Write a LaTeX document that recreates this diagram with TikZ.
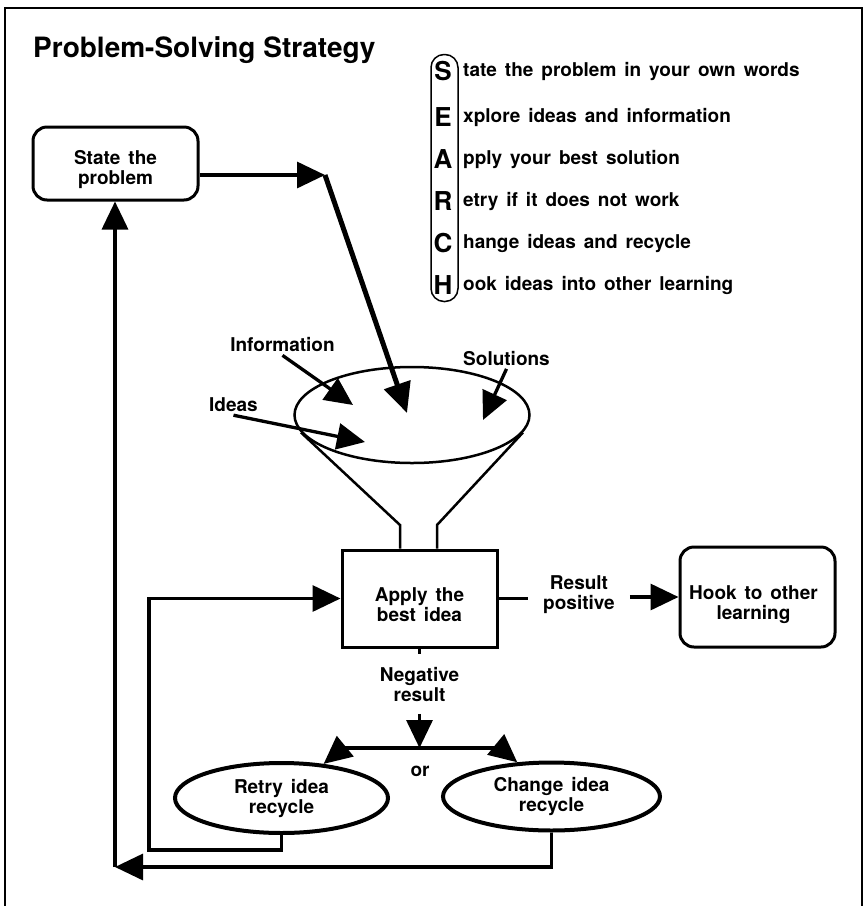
\documentclass[tikz,border=0pt]{standalone}
\usepackage{fontspec}
\setmainfont{TeX Gyre Heros}
\usetikzlibrary{arrows.meta,shapes.geometric}

% label font: bold sans with wide word spacing
\newcommand{\lblfont}{\fontsize{19}{20}\selectfont\bfseries\spaceskip=0.42em\relax}
\newcommand{\bigletter}{\fontsize{26}{26}\selectfont\bfseries}

\begin{document}
\begin{tikzpicture}[x=1pt,y=-1pt,
  conn/.style={line width=3.3pt},
  arr/.style={conn,-{Triangle[length=28pt,width=26pt]}},
  bigarr/.style={line width=5pt,-{Triangle[length=30pt,width=27pt]}},
  frame/.style={line width=2pt},
  sqbox/.style={draw,line width=3pt,inner sep=0pt},
  rbox/.style={sqbox,rounded corners=14pt},
  oval/.style={draw,ellipse,line width=4pt,inner sep=0pt,font=\lblfont,align=center},
  txt/.style={font=\lblfont,align=center,inner sep=0pt},
  funnelline/.style={line width=2.5pt},
  srch/.style={font=\lblfont,anchor=base west,inner sep=0pt},
  letter/.style={font=\bigletter,inner sep=0pt}]

\useasboundingbox (0,0) rectangle (866,906);

% page frame, open at the bottom
\draw[frame] (5,906) -- (5,8) -- (862,8) -- (862,906);

% title
\node[anchor=base west,inner sep=0pt,font=\fontsize{28}{30}\selectfont\bfseries] (title) at (33,57) {Problem-Solving Strategy};

% SEARCH acronym
\node[draw,rounded corners=13pt,line width=1.5pt,minimum width=27pt,minimum height=247pt,inner sep=0pt] (bracket) at (444.5,178) {};
\node[letter] (lS) at (443,71)  {S};
\node[letter] (lE) at (443,117) {E};
\node[letter] (lA) at (443,159) {A};
\node[letter] (lR) at (443,201) {R};
\node[letter] (lC) at (443,243) {C};
\node[letter] (lH) at (443,285) {H};
\node[srch] (tS) at (463,76)  {tate the problem in your own words};
\node[srch] (tE) at (463,122) {xplore ideas and information};
\node[srch] (tA) at (463,164) {pply your best solution};
\node[srch] (tR) at (463,206) {etry if it does not work};
\node[srch] (tC) at (463,248) {hange ideas and recycle};
\node[srch] (tH) at (463,290) {ook ideas into other learning};

% boxes
\node[rbox,minimum width=165pt,minimum height=73pt] (state) at (115.5,163.5) {};
\node[txt] (statetext) at (115.5,170) {State the\\problem};

\node[sqbox,minimum width=155pt,minimum height=97pt] (apply) at (419.5,598.5) {};
\node[txt] (applytext) at (419.5,604.5) {Apply the\\best idea};

\node[rbox,minimum width=155pt,minimum height=100pt] (hook) at (757.5,597) {};
\node[txt] (hooktext) at (753.5,605) {Hook to other\\learning};

\node[oval,minimum width=213pt,minimum height=70pt] (retry) at (281.5,798) {Retry idea\\recycle};
\node[oval,minimum width=217pt,minimum height=68pt] (change) at (551.5,796.5) {Change idea\\recycle};

% funnel
\node[draw,ellipse,line width=2.5pt,minimum width=235pt,minimum height=96pt,inner sep=0pt] (funnel) at (412,415) {};
\coordinate (nl) at (400,525);
\coordinate (nr) at (437,525);
\draw[funnelline] (funnel.189) -- (nl) -- (nl |- apply.north);
\draw[funnelline] (funnel.351) -- (nr) -- (nr |- apply.north);

% inputs to the funnel
\node[txt,inner sep=3pt] (info) at (282.5,345) {Information};
\node[txt,inner sep=3pt] (sol) at (506.5,358.5) {Solutions};
\node[txt,inner sep=3pt] (ideas) at (233.5,405) {Ideas};
\coordinate (infotip) at (353,405);
\coordinate (soltip) at (483,420);
\coordinate (ideatip) at (365,442);
\draw[arr] (info.south) -- (infotip);
\draw[arr] (sol.south) -- (soltip);
\draw[arr] (ideas.south) -- (ideatip);

% problem statement into the funnel
\coordinate (bend) at (325,175);
\coordinate (drop) at (407,413);
\draw[arr] (state.east |- bend) -- (bend);
\draw[bigarr] (bend) -- (drop);

% positive result
\node[txt,inner xsep=15pt,inner ysep=0pt] (pos) at (579,595) {Result\\positive};
\draw[conn] (apply.east) -- (apply.east -| pos.west);
\draw[arr] (pos.east |- hook.west) -- (hook.west);

% negative result and the split
\node[txt,inner xsep=0pt,inner ysep=12.5pt] (neg) at (419.5,684) {Negative\\result};
\coordinate (split) at (419.5,748);
\coordinate (sl) at (343,748);
\coordinate (sr) at (500,748);
\draw[conn] (apply.south) -- (neg.north);
\draw[arr] (neg.south) -- (split);
\draw[conn] (sl) -- (sr);
\draw[arr] (sl) -- (retry.39);
\draw[arr] (sr) -- (change.135);
\node[txt] (or) at (420,771) {or};

% recycle loops
\coordinate (rl) at (149,850);
\draw[arr] (retry.south) |- (rl) |- (apply.west);
\coordinate (cl) at (115,867);
\draw[arr] (change.south) |- (cl);
\draw[arr] (cl) -- (cl |- state.south);

\end{tikzpicture}
\end{document}
